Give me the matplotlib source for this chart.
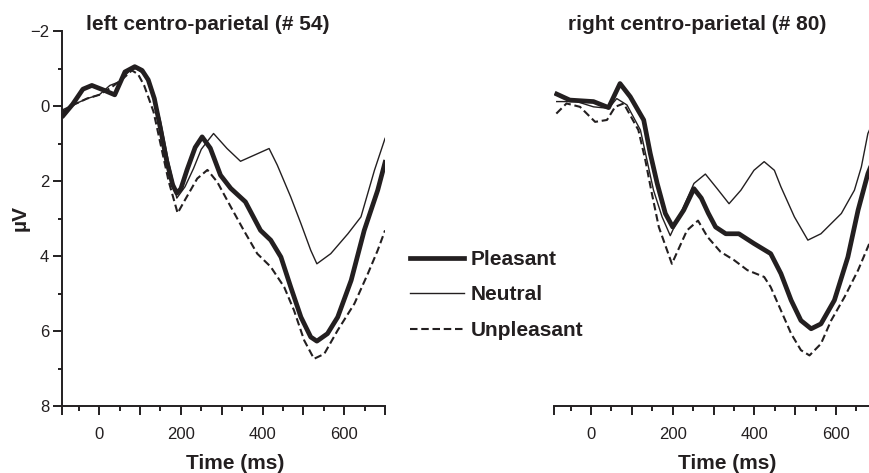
import numpy as np
import matplotlib
matplotlib.use("Agg")
import matplotlib.pyplot as plt
from matplotlib.lines import Line2D
from matplotlib.ticker import FixedLocator, NullFormatter

plt.rcParams['font.family'] = ['Liberation Sans', 'DejaVu Sans']

INK = '#231f20'

# left centro-parietal (# 54)
left_pleasant_t = [-88, -65, -40, -18, 10, 38, 63, 87, 105, 120, 135, 150, 165, 180, 190, 200,
                   215, 235, 252, 272, 297, 322, 358, 395, 420, 445, 469, 494, 518, 533, 559,
                   584, 617, 649, 682, 700]
left_pleasant_v = [0.25, -0.05, -0.45, -0.55, -0.43, -0.3, -0.91, -1.05, -0.95, -0.7, -0.2, 0.6,
                   1.45, 2.1, 2.32, 2.2, 1.7, 1.1, 0.82, 1.12, 1.84, 2.19, 2.55, 3.31, 3.57, 4.02,
                   4.82, 5.62, 6.15, 6.26, 6.06, 5.62, 4.64, 3.31, 2.24, 1.5]

left_neutral_t = [-90, -60, -30, 0, 26, 50, 75, 90, 110, 130, 150, 170, 190, 210, 231, 250, 264,
                  280, 313, 346, 379, 416, 436, 469, 494, 518, 533, 567, 609, 641, 674, 700]
left_neutral_v = [0.1, -0.05, -0.2, -0.3, -0.55, -0.65, -0.95, -1.0, -0.85, -0.45, 0.4, 1.5,
                  2.45, 2.15, 1.66, 1.15, 0.95, 0.73, 1.13, 1.47, 1.31, 1.13, 1.57, 2.42, 3.13,
                  3.84, 4.2, 3.93, 3.4, 2.95, 1.71, 0.86]

left_unpleasant_t = [-90, -60, -30, 0, 30, 60, 80, 95, 110, 133, 150, 170, 192, 210, 240, 265,
                     289, 322, 354, 387, 420, 453, 477, 502, 526, 551, 584, 625, 658, 682, 700]
left_unpleasant_v = [0.15, -0.05, -0.2, -0.3, -0.5, -0.75, -0.95, -0.85, -0.55, 0.15, 1.0, 2.0,
                     2.85, 2.5, 1.93, 1.7, 2.02, 2.68, 3.31, 3.93, 4.28, 4.82, 5.44, 6.24, 6.73,
                     6.6, 5.97, 5.26, 4.46, 3.84, 3.31]

# right centro-parietal (# 80)
right_pleasant_t = [-84, -52, 6, 43, 71, 96, 129, 145, 162, 182, 200, 227, 252, 270, 287, 305,
                    330, 362, 399, 440, 465, 490, 514, 539, 563, 596, 629, 654, 678, 700]
right_pleasant_v = [-0.32, -0.16, -0.12, 0.04, -0.6, -0.25, 0.37, 1.26, 2.06, 2.86, 3.22, 2.77,
                    2.2, 2.45, 2.85, 3.22, 3.4, 3.4, 3.66, 3.93, 4.46, 5.17, 5.71, 5.93, 5.8,
                    5.17, 4.02, 2.77, 1.8, 1.2]

right_neutral_t = [-84, -35, 6, 43, 63, 88, 121, 137, 153, 174, 194, 223, 252, 280, 309, 338,
                   367, 399, 424, 449, 465, 498, 531, 563, 613, 645, 662, 678, 700]
right_neutral_v = [-0.12, -0.12, 0.02, 0.06, -0.2, -0.03, 0.64, 1.44, 2.24, 2.95, 3.45, 2.77,
                   2.06, 1.81, 2.2, 2.6, 2.24, 1.71, 1.48, 1.71, 2.15, 2.95, 3.57, 3.4, 2.86,
                   2.24, 1.62, 0.73, 0.2]

right_unpleasant_t = [-85, -60, -27, 10, 39, 59, 80, 116, 133, 149, 166, 198, 235, 262, 285, 317,
                      350, 383, 424, 440, 465, 490, 514, 535, 563, 588, 621, 654, 678, 700]
right_unpleasant_v = [0.2, -0.07, 0.02, 0.42, 0.37, 0.02, -0.07, 0.64, 1.44, 2.33, 3.22, 4.2,
                      3.31, 3.05, 3.48, 3.88, 4.1, 4.37, 4.55, 4.82, 5.44, 6.06, 6.5, 6.64, 6.33,
                      5.71, 5.08, 4.37, 3.75, 3.2]

conditions = ['Pleasant', 'Neutral', 'Unpleasant']
styles = {
    'Pleasant': dict(lw=3.4, ls='-'),
    'Neutral': dict(lw=1.0, ls='-'),
    'Unpleasant': dict(lw=1.5, ls=(0, (3.6, 1.8))),
}

x_major = [-90, 0, 100, 200, 300, 400, 500, 600, 700]
x_minor = [-50, 50, 150, 250, 350, 450, 550, 650]
x_labels = {0: '0', 200: '200', 400: '400', 600: '600'}


def style_axis(ax):
    ax.set_xlim(-90, 700)
    ax.set_ylim(8, -2)
    for s in ['top', 'right']:
        ax.spines[s].set_visible(False)
    ax.spines['bottom'].set_linewidth(1.4)
    ax.spines['left'].set_linewidth(1.4)
    ax.spines['bottom'].set_color(INK)
    ax.spines['left'].set_color(INK)
    ax.xaxis.set_major_locator(FixedLocator(x_major))
    ax.xaxis.set_minor_locator(FixedLocator(x_minor))
    ax.set_xticklabels([x_labels.get(t, '') for t in x_major])
    ax.xaxis.set_minor_formatter(NullFormatter())
    ax.tick_params(axis='x', which='major', length=6.5, width=1.4, pad=8,
                   labelsize=12, colors=INK, direction='out')
    ax.tick_params(axis='x', which='minor', length=3.6, width=1.4, colors=INK, direction='out')


fig = plt.figure(figsize=(8.7, 4.73), dpi=100)
ax_l = fig.add_axes([0.0718, 0.1406, 0.3708, 0.7939])
ax_r = fig.add_axes([0.6371, 0.1406, 0.3708, 0.7939])

panels = [
    (ax_l, [(left_pleasant_t, left_pleasant_v), (left_neutral_t, left_neutral_v),
            (left_unpleasant_t, left_unpleasant_v)]),
    (ax_r, [(right_pleasant_t, right_pleasant_v), (right_neutral_t, right_neutral_v),
            (right_unpleasant_t, right_unpleasant_v)]),
]

for ax, series in panels:
    for name, (t, v) in zip(conditions, series):
        ax.plot(t, v, color=INK, solid_joinstyle='round', **styles[name])
    style_axis(ax)

# left y axis
ax_l.yaxis.set_major_locator(FixedLocator([-2, 0, 2, 4, 6, 8]))
ax_l.yaxis.set_minor_locator(FixedLocator([-1, 1, 3, 5, 7]))
ax_l.set_yticklabels(['\u22122', '0', '2', '4', '6', '8'])
ax_l.tick_params(axis='y', which='major', length=6.5, width=1.4, pad=3,
                 labelsize=12, colors=INK)
ax_l.tick_params(axis='y', which='minor', length=3.2, width=1.4, colors=INK)

# right panel: no y axis
ax_r.spines['left'].set_visible(False)
ax_r.tick_params(axis='y', which='both', left=False, labelleft=False)

# titles and axis labels
fig.text(208 / 870, 1 - 24 / 473, 'left centro-parietal (# 54)', ha='center', va='center',
         fontsize=15, fontweight='bold', color=INK)
fig.text(697 / 870, 1 - 24 / 473, 'right centro-parietal (# 80)', ha='center', va='center',
         fontsize=15, fontweight='bold', color=INK)
fig.text(235 / 870, 1 - 463 / 473, 'Time (ms)', ha='center', va='center',
         fontsize=15, fontweight='bold', color=INK)
fig.text(727 / 870, 1 - 463 / 473, 'Time (ms)', ha='center', va='center',
         fontsize=15, fontweight='bold', color=INK)
fig.text(20 / 870, 1 - 218 / 473, '\u00b5V', ha='center', va='center', rotation=90,
         fontsize=15, fontweight='bold', color=INK)

handles = [Line2D([], [], color=INK, **styles[n]) for n in conditions]
leg = fig.legend(handles, conditions, loc='center left',
                 bbox_to_anchor=(410 / 870, 1 - 295 / 473), frameon=False,
                 handlelength=2.6, handletextpad=0.3, labelspacing=0.8, borderpad=0,
                 borderaxespad=0, prop=dict(weight='bold', size=15))
for txt in leg.get_texts():
    txt.set_color(INK)

fig.savefig('out.png', dpi=100)
